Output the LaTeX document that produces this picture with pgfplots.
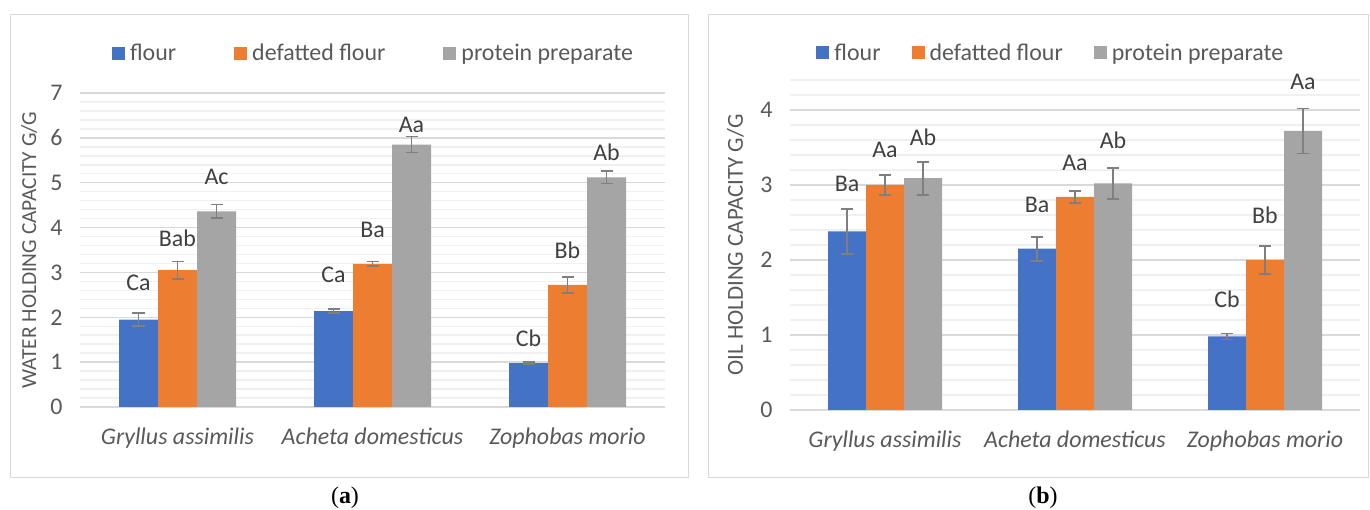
\documentclass[border=0pt]{standalone}
\usepackage{fontspec}
\setmainfont{Carlito}
\newfontfamily\capfont{Liberation Serif}
\usepackage{pgfplots}
\pgfplotsset{compat=1.18}
\usepackage{pgfplotstable}
\definecolor{cblue}{HTML}{4472C4}
\definecolor{corange}{HTML}{ED7D31}
\definecolor{cgray}{HTML}{A5A5A5}
\definecolor{errgray}{HTML}{7F7F7F}
\definecolor{txtgray}{HTML}{595959}
\definecolor{lblgray}{HTML}{404040}
\definecolor{gridmaj}{HTML}{D9D9D9}
\definecolor{gridmin}{HTML}{F0F0F0}

% water holding capacity (a)
\pgfplotstableread{
x y e
0 1.95 0.15
1 2.14 0.05
2 0.98 0.02
}\wflour
\pgfplotstableread{
x y e
0 3.05 0.19
1 3.19 0.05
2 2.72 0.18
}\wdef
\pgfplotstableread{
x y e
0 4.36 0.15
1 5.85 0.18
2 5.12 0.14
}\wprot
% oil holding capacity (b)
\pgfplotstableread{
x y e
0 2.38 0.30
1 2.15 0.16
2 0.98 0.04
}\oflour
\pgfplotstableread{
x y e
0 3.00 0.13
1 2.84 0.08
2 2.00 0.19
}\odef
\pgfplotstableread{
x y e
0 3.09 0.22
1 3.02 0.21
2 3.72 0.30
}\oprot

\tikzset{lbl/.style={font=\fontsize{24}{28}\selectfont, text=lblgray, inner sep=0pt}}
\pgfplotsset{
  mybars/.style={
    scale only axis,
    clip=false,
    ybar=0pt,
    bar width=0.2,
    xmin=-0.5, xmax=2.5,
    ymin=0,
    xtick={0,1,2},
    xticklabels={\textit{Gryllus assimilis},\textit{Acheta domesticus},\textit{Zophobas morio}},
    axis line style={draw=none},
    major tick length=0pt, minor tick length=0pt,
    ymajorgrids, yminorgrids,
    major grid style={draw=gridmaj, line width=1.5bp},
    minor grid style={draw=gridmin, line width=1.5bp},
    tick label style={font=\fontsize{24}{28}\selectfont, text=txtgray},
    yticklabel style={xshift=-14bp},
    xticklabel style={yshift=-17bp},
    /pgf/number format/assume math mode=true,
    ylabel style={text=txtgray, anchor=center},
    legend columns=3,
    legend style={draw=none, fill=none, font=\fontsize{24}{28}\selectfont, text=txtgray,
      nodes={inner sep=0pt}, anchor=center},
    legend image code/.code={\fill[##1] (0bp,-6.5bp) rectangle (13bp,6.5bp); \path (18bp,0bp);},
    error bars/error bar style={draw=errgray, line width=1.6bp},
    error bars/error mark options={draw=errgray, rotate=90, mark size=6bp, line width=1.6bp},
  },
}

\begin{document}
\begin{tikzpicture}
\path[use as bounding box] (0bp,0bp) rectangle (1370bp,510bp);
\draw[gridmaj, line width=1bp] (10bp,32bp) rectangle (688bp,495bp);
\draw[gridmaj, line width=1bp] (708bp,32bp) rectangle (1368bp,495bp);

% ---------------- (a)
\begin{axis}[mybars,
  at={(80bp,103bp)}, anchor=south west,
  width=585bp, height=314bp,
  ymax=7, ytick={0,1,...,7},
  minor ytick={0.2,0.4,...,6.9},
  ylabel={WATER HOLDING CAPACITY G/G},
  ylabel style={at={(axis description cs:-0.087,0.5)}, font=\fontsize{21.5}{25}\selectfont},
  legend style={at={(axis description cs:0.5,1.127)}, /tikz/every even column/.append style={column sep=58bp}},
]
\addplot[fill=cblue, draw=none, error bars/.cd, y dir=both, y explicit] table[x=x, y=y, y error=e] {\wflour};
\addplot[fill=corange, draw=none, error bars/.cd, y dir=both, y explicit] table[x=x, y=y, y error=e] {\wdef};
\addplot[fill=cgray, draw=none, error bars/.cd, y dir=both, y explicit] table[x=x, y=y, y error=e] {\wprot};
\legend{flour,defatted flour,protein preparate}
\node[lbl] at (axis cs:-0.2,2.77) {Ca};
\node[lbl] at (axis cs:0,3.77) {Bab};
\node[lbl] at (axis cs:0.2,5.13) {Ac};
\node[lbl] at (axis cs:0.8,2.94) {Ca};
\node[lbl] at (axis cs:1,3.94) {Ba};
\node[lbl] at (axis cs:1.2,6.28) {Aa};
\node[lbl] at (axis cs:1.8,1.53) {Cb};
\node[lbl] at (axis cs:2,3.50) {Bb};
\node[lbl] at (axis cs:2.2,5.67) {Ab};
\end{axis}

% ---------------- (b)
\begin{axis}[mybars,
  at={(790bp,100bp)}, anchor=south west,
  width=570bp, height=330bp,
  ymax=4.4, ytick={0,1,...,4},
  minor ytick={0.2,0.4,...,4.45},
  ylabel={OIL HOLDING CAPACITY G/G},
  ylabel style={at={(axis description cs:-0.096,0.5)}, font=\fontsize{23}{27}\selectfont},
  legend style={at={(axis description cs:0.456,1.082)}, /tikz/every even column/.append style={column sep=31bp}},
]
\addplot[fill=cblue, draw=none, error bars/.cd, y dir=both, y explicit] table[x=x, y=y, y error=e] {\oflour};
\addplot[fill=corange, draw=none, error bars/.cd, y dir=both, y explicit] table[x=x, y=y, y error=e] {\odef};
\addplot[fill=cgray, draw=none, error bars/.cd, y dir=both, y explicit] table[x=x, y=y, y error=e] {\oprot};
\legend{flour,defatted flour,protein preparate}
\node[lbl] at (axis cs:-0.2,3.01) {Ba};
\node[lbl] at (axis cs:0,3.47) {Aa};
\node[lbl] at (axis cs:0.2,3.64) {Ab};
\node[lbl] at (axis cs:0.8,2.73) {Ba};
\node[lbl] at (axis cs:1,3.30) {Aa};
\node[lbl] at (axis cs:1.2,3.60) {Ab};
\node[lbl] at (axis cs:1.8,1.47) {Cb};
\node[lbl] at (axis cs:2,2.60) {Bb};
\node[lbl] at (axis cs:2.2,4.38) {Aa};
\end{axis}

\node[font=\capfont\fontsize{24}{28}\selectfont] at (345bp,12bp) {(\textbf{a})};
\node[font=\capfont\fontsize{24}{28}\selectfont] at (1043bp,12bp) {(\textbf{b})};
\end{tikzpicture}
\end{document}
